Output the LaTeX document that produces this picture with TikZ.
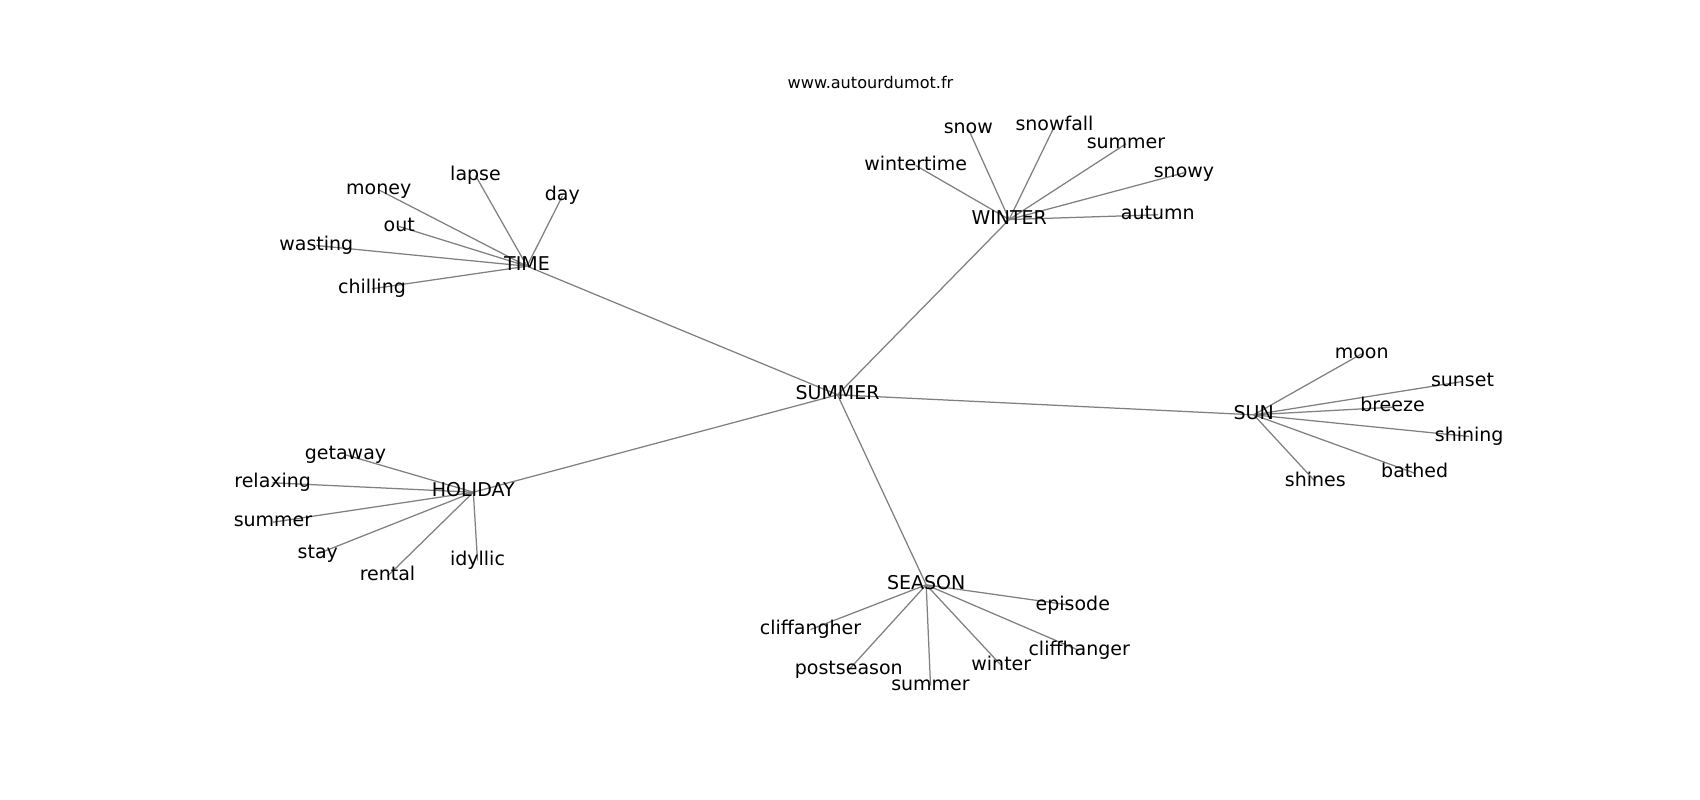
\documentclass[tikz,border=0pt]{standalone}
\usepackage{fontspec}
\setmainfont{DejaVu Sans}
\definecolor{edgegray}{RGB}{128,128,128}
\pgfdeclarelayer{bg}
\pgfsetlayers{bg,main}
\tikzset{
  lbl/.style={anchor=base, inner sep=0pt, font=\fontsize{19}{23}\selectfont, text height=14pt, text depth=5pt},
  ttl/.style={anchor=base, inner sep=0pt, font=\fontsize{16.1}{19}\selectfont},
  link/.style={draw=edgegray, line width=1.25pt}
}
\begin{document}
\begin{tikzpicture}[x=1pt,y=-1pt]
\useasboundingbox (0,0) rectangle (1700,800);
\node[ttl] (title) at (870.5,88.5) {www.autourdumot.fr};
% hubs
\node[lbl] (SUMMER) at (837.5,399.3) {SUMMER};
\node[lbl] (TIME) at (527,270.7) {TIME};
\node[lbl] (WINTER) at (1009.2,224) {WINTER};
\node[lbl] (SUN) at (1253.7,419.3) {SUN};
\node[lbl] (HOLIDAY) at (473.3,496.7) {HOLIDAY};
\node[lbl] (SEASON) at (926.2,589.3) {SEASON};
% TIME leaves
\node[lbl] (money) at (378.7,194.3) {money};
\node[lbl] (lapse) at (475.5,180) {lapse};
\node[lbl] (day) at (562.3,200.7) {day};
\node[lbl] (out) at (399.3,231) {out};
\node[lbl] (wasting) at (316.3,250) {wasting};
\node[lbl] (chilling) at (372,293.3) {chilling};
% WINTER leaves
\node[lbl] (snow) at (968.3,133.3) {snow};
\node[lbl] (snowfall) at (1054.5,130.7) {snowfall};
\node[lbl] (summerW) at (1126,148.3) {summer};
\node[lbl] (wintertime) at (915.7,170) {wintertime};
\node[lbl] (snowy) at (1184,177.3) {snowy};
\node[lbl] (autumn) at (1157.8,219.3) {autumn};
% SUN leaves
\node[lbl] (moon) at (1361.7,358.3) {moon};
\node[lbl] (sunset) at (1462.5,386) {sunset};
\node[lbl] (breeze) at (1392.5,411.7) {breeze};
\node[lbl] (shining) at (1469.2,441) {shining};
\node[lbl] (bathed) at (1414.7,477.7) {bathed};
\node[lbl] (shines) at (1315.3,486) {shines};
% HOLIDAY leaves
\node[lbl] (getaway) at (345.5,459.3) {getaway};
\node[lbl] (relaxing) at (272.7,487.3) {relaxing};
\node[lbl] (summerH) at (273,526.7) {summer};
\node[lbl] (stay) at (317.8,558.3) {stay};
\node[lbl] (rental) at (387.5,580.7) {rental};
\node[lbl] (idyllic) at (477.5,565) {idyllic};
% SEASON leaves
\node[lbl] (episode) at (1072.8,610) {episode};
\node[lbl] (cliffangher) at (810.5,634) {cliffangher};
\node[lbl] (cliffhanger) at (1079.2,655) {cliffhanger};
\node[lbl] (postseason) at (848.8,674.3) {postseason};
\node[lbl] (winter) at (1001.3,670) {winter};
\node[lbl] (summerS) at (930.5,690) {summer};
\begin{pgfonlayer}{bg}
\fill[white] (0,0) rectangle (1700,800);
\foreach \h in {TIME,WINTER,SUN,HOLIDAY,SEASON}
  \draw[link] (SUMMER.center) -- (\h.center);
\foreach \l in {money,lapse,day,out,wasting,chilling}
  \draw[link] (TIME.center) -- (\l.center);
\foreach \l in {snow,snowfall,summerW,wintertime,snowy,autumn}
  \draw[link] (WINTER.center) -- (\l.center);
\foreach \l in {moon,sunset,breeze,shining,bathed,shines}
  \draw[link] (SUN.center) -- (\l.center);
\foreach \l in {getaway,relaxing,summerH,stay,rental,idyllic}
  \draw[link] (HOLIDAY.center) -- (\l.center);
\foreach \l in {episode,cliffangher,cliffhanger,postseason,winter,summerS}
  \draw[link] (SEASON.center) -- (\l.center);
\end{pgfonlayer}
\end{tikzpicture}
\end{document}
